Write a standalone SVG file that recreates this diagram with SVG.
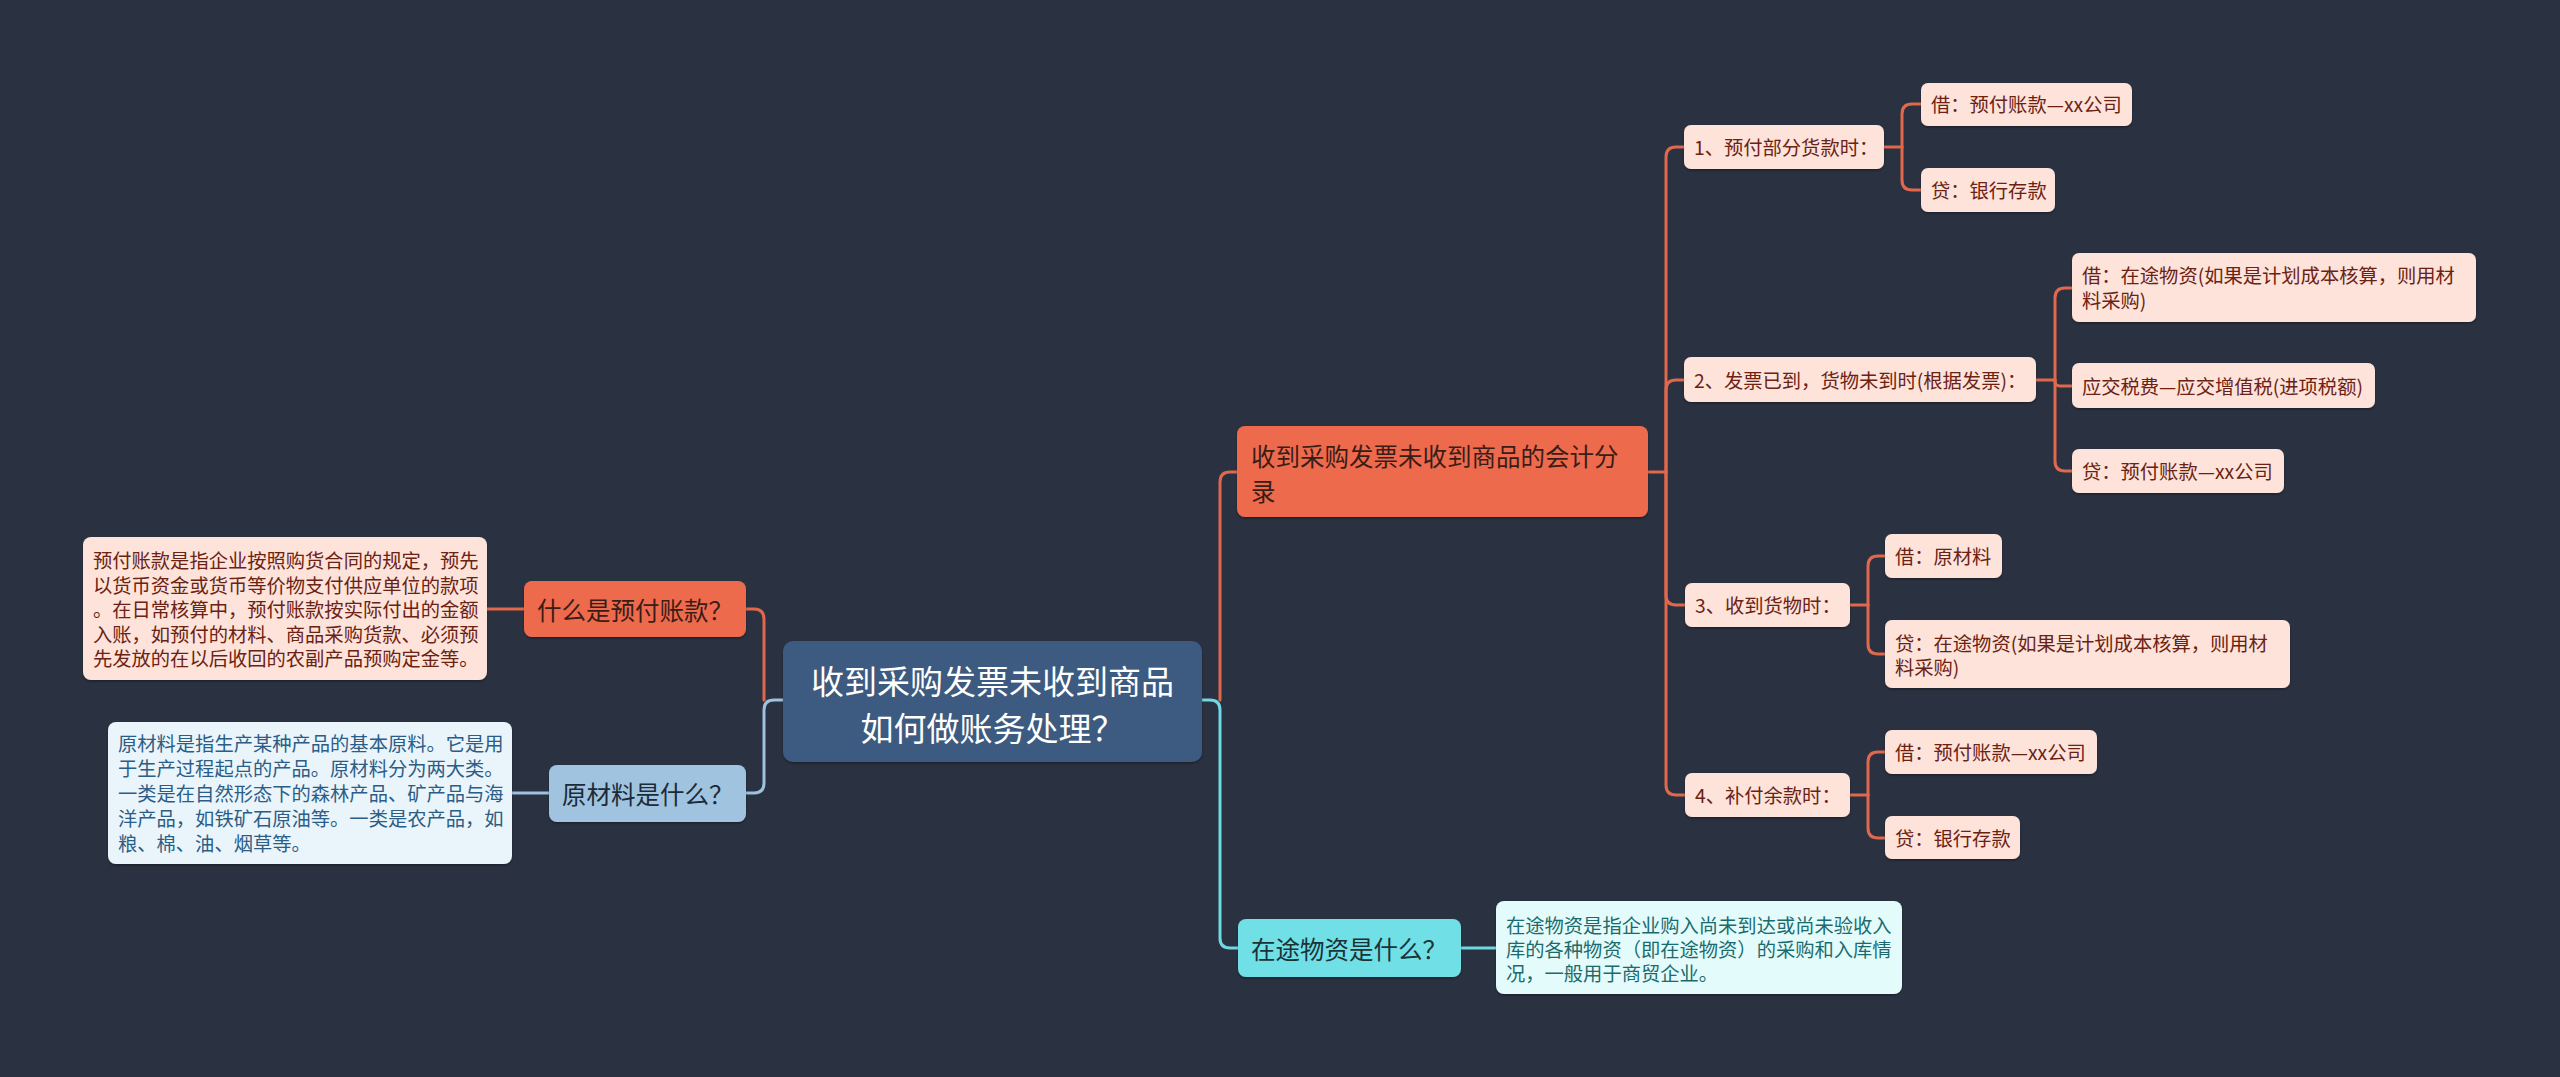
<svg xmlns="http://www.w3.org/2000/svg" width="2560" height="1077" viewBox="0 0 2560 1077">
<defs>
<filter id="sh" x="-5%" y="-10%" width="110%" height="130%">
<feDropShadow dx="0" dy="1.5" stdDeviation="1" flood-color="#000" flood-opacity="0.35"/>
</filter>
</defs>
<style>
text{font-family:"Noto Sans CJK SC","Noto Sans",sans-serif;dominant-baseline:central}
.bg{fill:#2a3141}
.c{fill:none;stroke-width:3;stroke-linecap:round}
.cr{stroke:#e0684c}
.cb{stroke:#9cc2df}
.cc{stroke:#6fd9e3}
.root rect{fill:#3d5a80}
.root text{fill:#ffffff;font-size:33px;text-anchor:middle}
.l1r rect{fill:#ee6b4d}
.l1r text{fill:#3a1d17;font-size:24.5px}
.l1b rect{fill:#a0c4e0}
.l1b text{fill:#1d2a38;font-size:24.5px}
.l1c rect{fill:#6fdfe6}
.l1c text{fill:#1c3336;font-size:24.5px}
.pk rect{fill:#fde3da}
.pk text{fill:#6b2213;font-size:19.3px}
.tb rect{fill:#eaf4fb}
.tb text{fill:#2b5d86;font-size:19.3px}
.tc rect{fill:#e3fbfb}
.tc text{fill:#1b6b6e;font-size:19.3px}
rect{filter:url(#sh)}
</style>
<rect class="bg" x="0" y="0" width="2560" height="1077" style="filter:none"/>

<g id="connectors">
<path class="c cr" d="M746 609 H754 Q764 609 764 619 V700"/>
<path class="c cr" d="M487 609 H524"/>
<path class="c cb" d="M783 700 H774 Q764 700 764 710 V783 Q764 793 754 793 H746"/>
<path class="c cb" d="M512 793 H549"/>
<path class="c cr" d="M1237 472 H1230 Q1220 472 1220 482 V700"/>
<path class="c cc" d="M1202 700 H1210 Q1220 700 1220 710 V938 Q1220 948 1230 948 H1238"/>
<path class="c cc" d="M1461 948 H1496"/>
<path class="c cr" d="M1648 472 H1666"/>
<path class="c cr" d="M1666 472 V157 Q1666 147 1676 147 H1684"/>
<path class="c cr" d="M1666 472 V390 Q1666 380 1676 380 H1684"/>
<path class="c cr" d="M1666 472 V595 Q1666 605 1676 605 H1685"/>
<path class="c cr" d="M1666 472 V785 Q1666 795 1676 795 H1685"/>
<path class="c cr" d="M1884 147 H1902"/>
<path class="c cr" d="M1902 147 V114 Q1902 104 1912 104 H1921"/>
<path class="c cr" d="M1902 147 V180 Q1902 190 1912 190 H1921"/>
<path class="c cr" d="M2036 380 H2055"/>
<path class="c cr" d="M2055 380 V298 Q2055 288 2065 288 H2072"/>
<path class="c cr" d="M2055 380 V381 Q2055 386 2060 386 H2072"/>
<path class="c cr" d="M2055 380 V461 Q2055 471 2065 471 H2072"/>
<path class="c cr" d="M1850 605 H1868"/>
<path class="c cr" d="M1868 605 V566 Q1868 556 1878 556 H1885"/>
<path class="c cr" d="M1868 605 V644 Q1868 654 1878 654 H1885"/>
<path class="c cr" d="M1850 795 H1868"/>
<path class="c cr" d="M1868 795 V762 Q1868 752 1878 752 H1885"/>
<path class="c cr" d="M1868 795 V828 Q1868 838 1878 838 H1885"/>
</g>

<g id="root" class="root">
<rect x="783" y="641" width="419" height="121" rx="10"/>
<text x="992.5" y="680">收到采购发票未收到商品</text>
<text x="992.5" y="727">如何做账务处理？</text>
</g>

<g id="n-yufu" class="l1r">
<rect x="524" y="581" width="222" height="56" rx="8"/>
<text x="537" y="609">什么是预付账款？</text>
</g>
<g id="t-yufu" class="pk">
<rect x="83" y="537" width="404" height="143" rx="8"/>
<text x="93" y="560">预付账款是指企业按照购货合同的规定，预先</text>
<text x="93" y="584.5">以货币资金或货币等价物支付供应单位的款项</text>
<text x="93" y="609">。在日常核算中，预付账款按实际付出的金额</text>
<text x="93" y="633.5">入账，如预付的材料、商品采购货款、必须预</text>
<text x="93" y="658">先发放的在以后收回的农副产品预购定金等。</text>
</g>

<g id="n-ycl" class="l1b">
<rect x="549" y="765" width="197" height="57" rx="8"/>
<text x="562" y="793">原材料是什么？</text>
</g>
<g id="t-ycl" class="tb">
<rect x="108" y="722" width="404" height="142" rx="8"/>
<text x="118" y="743">原材料是指生产某种产品的基本原料。它是用</text>
<text x="118" y="768">于生产过程起点的产品。原材料分为两大类。</text>
<text x="118" y="793">一类是在自然形态下的森林产品、矿产品与海</text>
<text x="118" y="818">洋产品，如铁矿石原油等。一类是农产品，如</text>
<text x="118" y="843">粮、棉、油、烟草等。</text>
</g>

<g id="n-main" class="l1r">
<rect x="1237" y="426" width="411" height="91" rx="8"/>
<text x="1251" y="455">收到采购发票未收到商品的会计分</text>
<text x="1251" y="490">录</text>
</g>

<g id="n-ztwz" class="l1c">
<rect x="1238" y="919" width="223" height="58" rx="8"/>
<text x="1251" y="948">在途物资是什么？</text>
</g>
<g id="t-ztwz" class="tc">
<rect x="1496" y="901" width="406" height="93" rx="8"/>
<text x="1506" y="925">在途物资是指企业购入尚未到达或尚未验收入</text>
<text x="1506" y="949">库的各种物资（即在途物资）的采购和入库情</text>
<text x="1506" y="973">况，一般用于商贸企业。</text>
</g>

<g id="n1" class="pk">
<rect x="1684" y="125" width="200" height="44" rx="7"/>
<text x="1694" y="147">1、预付部分货款时：</text>
</g>
<g id="n1a" class="pk">
<rect x="1921" y="83" width="211" height="43" rx="7"/>
<text x="1931" y="104">借：预付账款—xx公司</text>
</g>
<g id="n1b" class="pk">
<rect x="1921" y="168" width="134" height="44" rx="7"/>
<text x="1931" y="190">贷：银行存款</text>
</g>

<g id="n2" class="pk">
<rect x="1684" y="357" width="352" height="45" rx="7"/>
<text x="1694" y="380">2、发票已到，货物未到时(根据发票)：</text>
</g>
<g id="n2a" class="pk">
<rect x="2072" y="253" width="404" height="69" rx="7"/>
<text x="2082" y="275">借：在途物资(如果是计划成本核算，则用材</text>
<text x="2082" y="300">料采购)</text>
</g>
<g id="n2b" class="pk">
<rect x="2072" y="363" width="303" height="45" rx="7"/>
<text x="2082" y="386">应交税费—应交增值税(进项税额)</text>
</g>
<g id="n2c" class="pk">
<rect x="2072" y="449" width="212" height="44" rx="7"/>
<text x="2082" y="471">贷：预付账款—xx公司</text>
</g>

<g id="n3" class="pk">
<rect x="1685" y="583" width="165" height="44" rx="7"/>
<text x="1695" y="605">3、收到货物时：</text>
</g>
<g id="n3a" class="pk">
<rect x="1885" y="534" width="117" height="44" rx="7"/>
<text x="1895" y="556">借：原材料</text>
</g>
<g id="n3b" class="pk">
<rect x="1885" y="620" width="405" height="68" rx="7"/>
<text x="1895" y="643">贷：在途物资(如果是计划成本核算，则用材</text>
<text x="1895" y="667">料采购)</text>
</g>

<g id="n4" class="pk">
<rect x="1685" y="773" width="165" height="44" rx="7"/>
<text x="1695" y="795">4、补付余款时：</text>
</g>
<g id="n4a" class="pk">
<rect x="1885" y="730" width="212" height="44" rx="7"/>
<text x="1895" y="752">借：预付账款—xx公司</text>
</g>
<g id="n4b" class="pk">
<rect x="1885" y="816" width="135" height="43" rx="7"/>
<text x="1895" y="838">贷：银行存款</text>
</g>
</svg>
